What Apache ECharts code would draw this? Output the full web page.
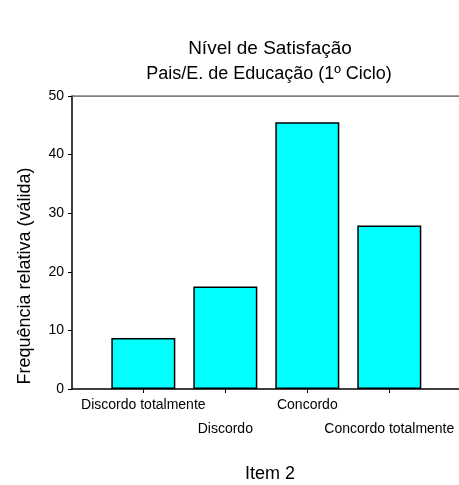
<!DOCTYPE html>
<html><head><meta charset="utf-8">
<script src="https://cdn.jsdelivr.net/npm/echarts@6/dist/echarts.min.js"></script>
<style>html,body{margin:0;padding:0;background:#fff}#c{width:459px;height:485px}</style>
</head><body><div id="c"></div>
<script>
var categories = ['Discordo totalmente', 'Discordo', 'Concordo', 'Concordo totalmente'];
var values = [8.7, 17.5, 45.5, 27.9];
var positions = [0, 1, 2, 3];
var yTicks = [0, 10, 20, 30, 40, 50];

var FONT = '"Liberation Sans", Arial, sans-serif';
var X_MIN = -0.87, X_MAX = 3.85;
var evenPos = positions.filter(function (p) { return p % 2 === 0; });
var oddPos = positions.filter(function (p) { return p % 2 === 1; });
function catLabel(v) { return categories[Math.round(v)]; }

var chart = echarts.init(document.getElementById('c'), null, {renderer: 'canvas'});
chart.setOption({
  animation: false,
  backgroundColor: '#fff',
  title: [
    {text: 'Nível de Satisfação', left: 265, top: 34, textAlign: 'center',
     textStyle: {fontFamily: FONT, fontSize: 19, fontWeight: 'normal', color: '#000'}},
    {text: 'Pais/E. de Educação (1º Ciclo)', left: 264, top: 60, textAlign: 'center',
     textStyle: {fontFamily: FONT, fontSize: 18, fontWeight: 'normal', color: '#000'}},
    {text: 'Item 2', left: 265, top: 460, textAlign: 'center',
     textStyle: {fontFamily: FONT, fontSize: 18, fontWeight: 'normal', color: '#000'}}
  ],
  graphic: [{
    type: 'text', x: 25, y: 276, rotation: Math.PI / 2,
    style: {text: 'Frequência relativa (válida)', font: '18px ' + FONT, fill: '#000',
            align: 'center', verticalAlign: 'middle'}
  }],
  grid: {left: 72, right: 0, top: 96, bottom: 96, show: false},
  xAxis: [{
    type: 'value', min: X_MIN, max: X_MAX, position: 'bottom',
    splitLine: {show: false},
    axisLine: {show: true, onZero: false, lineStyle: {color: '#000', width: 1.5}},
    axisTick: {show: true, customValues: positions, length: 4, lineStyle: {color: '#000'}},
    axisLabel: {
      customValues: evenPos, margin: 9, hideOverlap: false,
      showMinLabel: true, showMaxLabel: true,
      fontFamily: FONT, fontSize: 14, color: '#000', formatter: catLabel
    }
  }, {
    type: 'value', min: X_MIN, max: X_MAX, position: 'bottom',
    splitLine: {show: false},
    axisLine: {show: false, onZero: false},
    axisTick: {show: false},
    axisLabel: {
      customValues: oddPos, margin: 33, hideOverlap: false,
      showMinLabel: true, showMaxLabel: true,
      fontFamily: FONT, fontSize: 14, color: '#000', formatter: catLabel
    }
  }],
  yAxis: [{
    type: 'value', min: 0, max: 50, interval: 10,
    splitLine: {show: false},
    axisLine: {show: true, onZero: false, lineStyle: {color: '#000', width: 1.5}},
    axisTick: {show: true, length: 4, lineStyle: {color: '#000'}},
    axisLabel: {margin: 8, fontFamily: FONT, fontSize: 14, color: '#000',
      formatter: function (v) { return yTicks.indexOf(v) >= 0 ? String(v) : ''; }}
  }],
  series: [
    {
      type: 'bar', barWidth: 64, xAxisIndex: 0,
      data: positions.map(function (p, i) { return [p, values[i]]; }),
      itemStyle: {color: '#00FFFF', borderColor: '#000', borderWidth: 1.5}
    },
    {
      type: 'line', xAxisIndex: 0, data: [[X_MIN, 50], [X_MAX, 50]], symbol: 'none', silent: true,
      lineStyle: {color: '#555', width: 1.5}
    }
  ]
});
</script></body></html>
